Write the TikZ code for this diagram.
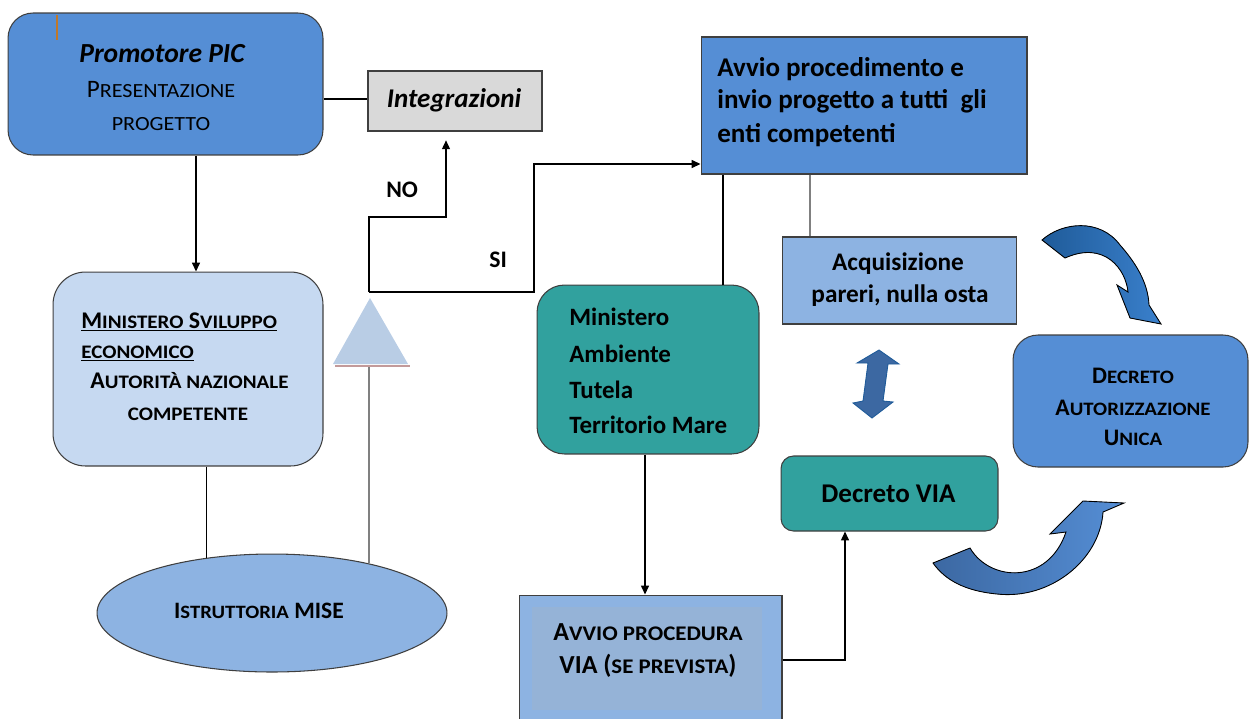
\documentclass[tikz,border=0pt]{standalone}
\usepackage{fontspec}
\setmainfont{Carlito}
\usetikzlibrary{arrows.meta,shapes.geometric}

\definecolor{bluA}{HTML}{558ED5}
\definecolor{bluC}{HTML}{C6D9F1}
\definecolor{bluM}{HTML}{8DB3E2}
\definecolor{bluV}{HTML}{95B3D7}
\definecolor{verde}{HTML}{31A19E}
\definecolor{grigio}{HTML}{D9D9D9}
\definecolor{bordo}{HTML}{3F3F3F}
\definecolor{tria}{HTML}{B9CDE5}
\definecolor{rosa}{HTML}{C39A9A}
\definecolor{bluS}{HTML}{3C68A2}
\definecolor{bluD}{HTML}{1F5B99}
\definecolor{bluL}{HTML}{3A80CC}
\definecolor{arancio}{HTML}{C0782A}

% maiuscoletto
\newcommand{\pc}[1]{\scalebox{0.88}[0.8]{#1}}

\begin{document}
\begin{tikzpicture}[x=0.02cm, y=-0.02cm,
		scatola/.style={draw=bordo, line width=0.6pt, inner sep=0pt},
		tonda/.style={scatola, rounded corners=0.5cm},
		freccia/.style={-{Triangle[length=5pt, width=4.5pt]}, line width=0.7pt},
		linea/.style={line width=0.7pt},
		lineagrigia/.style={line width=0.9pt, draw=gray},
		testo/.style={inner sep=0pt, font=\fontsize{#1}{#1}\selectfont\bfseries},
		tenue/.style={inner sep=0pt, font=\fontsize{#1}{#1}\selectfont}
	]
	\useasboundingbox (0,0) rectangle (1250,718);

	% promotore
	\node [tonda, fill=bluA, minimum width=6.3cm, minimum height=2.84cm] (promotore) at (165.5,84) {};
	\draw [arancio, line width=1.2pt] (57,15) -- (57,40);
	\node [testo=15.7, anchor=base] (promotore-a) at (162,62) {\itshape Promotore PIC};
	\node [tenue=14.3, anchor=base] (promotore-b) at (161,97) {P\pc{RESENTAZIONE}};
	\node [tenue=14.3, anchor=base] (promotore-c) at (161,130) {\pc{PROGETTO}};

	% integrazioni
	\node [scatola, fill=grigio, minimum width=3.48cm, minimum height=1.2cm] (integrazioni) at (455,101) {};
	\node [testo=15.4, anchor=base] (integrazioni-a) at (454,107) {\itshape Integrazioni};

	% ministero sviluppo economico
	\node [tonda, rounded corners=0.65cm, fill=bluC, minimum width=5.4cm, minimum height=3.88cm] (mise) at (188,369) {};
	\node [testo=13.6, anchor=base west] (mise-a) at (81,328) {\underline{M\pc{INISTERO} S\pc{VILUPPO}}};
	\node [testo=13.6, anchor=base west] (mise-b) at (81,358) {\underline{\pc{ECONOMICO}}};
	\node [testo=13.6, anchor=base west] (mise-c) at (90,388) {A\pc{UTORITÀ NAZIONALE}};
	\node [testo=13.6, anchor=base] (mise-d) at (188,420) {\pc{COMPETENTE}};

	% istruttoria
	\node [scatola, ellipse, fill=bluM, minimum width=7cm, minimum height=2.36cm] (istruttoria) at (272,613) {};
	\node [testo=13.4, anchor=base] (istruttoria-a) at (259,618) {I\pc{STRUTTORIA} MISE};

	% verifica
	\coordinate (tri) at (370,367);
	\coordinate (bivio) at (369,292);
	\fill [tria] (333,364) -- (370,298) -- (408,364) -- cycle;
	\draw [rosa, line width=1.6pt] (335,366) -- (410,366);
	\node [testo=13.5, anchor=base west] (no) at (386,197) {NO};
	\node [testo=13.5, anchor=base west] (si) at (489,267) {SI};

	% avvio procedimento
	\node [scatola, fill=bluA, minimum width=6.52cm, minimum height=2.74cm] (avvio) at (864,105.5) {};
	\node [testo=15.4, anchor=base west] (avvio-a) at (717,76) {Avvio procedimento e};
	\node [testo=15.4, anchor=base west] (avvio-b) at (717,108) {invio progetto a tutti\ \ gli};
	\node [testo=15.4, anchor=base west] (avvio-c) at (717,142) {enti competenti};

	% acquisizione pareri
	\node [scatola, fill=bluM, minimum width=4.68cm, minimum height=1.74cm] (acquisizione) at (899.5,280.5) {};
	\node [testo=14.4, anchor=base] (acquisizione-a) at (898,270) {Acquisizione};
	\node [testo=14.4, anchor=base] (acquisizione-b) at (900,302) {pareri, nulla osta};

	% ministero ambiente
	\node [tonda, rounded corners=0.55cm, fill=verde, minimum width=4.44cm, minimum height=3.38cm] (ambiente) at (648,369.5) {};
	\node [testo=14.2, anchor=base west] (ambiente-a) at (569,325) {Ministero};
	\node [testo=14.2, anchor=base west] (ambiente-b) at (569,362) {Ambiente};
	\node [testo=14.2, anchor=base west] (ambiente-c) at (569,398) {Tutela};
	\node [testo=14.2, anchor=base west] (ambiente-d) at (569,433) {Territorio Mare};

	% procedura VIA
	\node [scatola, fill=bluM, minimum width=5.26cm, minimum height=2.6cm] (procedura) at (650.5,660) {};
	\fill [bluV] (532,607) rectangle (762,710);
	\node [testo=14.8, anchor=base] (procedura-a) at (648,640) {A\pc{VVIO PROCEDURA}};
	\node [testo=14.8, anchor=base] (procedura-b) at (648,673) {VIA (\pc{SE PREVISTA})};

	% decreto VIA
	\node [tonda, rounded corners=0.25cm, fill=verde, minimum width=4.34cm, minimum height=1.5cm] (decretovia) at (889.5,493.5) {};
	\node [testo=15.4, anchor=base] (decretovia-a) at (888.5,502) {Decreto VIA};

	% decreto autorizzazione unica
	\node [tonda, fill=bluA, minimum width=4.7cm, minimum height=2.64cm] (decretoau) at (1130.5,401) {};
	\node [testo=13.5, anchor=base] (decretoau-a) at (1133,383) {D\pc{ECRETO}};
	\node [testo=13.5, anchor=base] (decretoau-b) at (1133,415) {A\pc{UTORIZZAZIONE}};
	\node [testo=13.5, anchor=base] (decretoau-c) at (1133,445) {U\pc{NICA}};

	% collegamenti
	\draw [freccia] (promotore.south -| 196,0) -- (mise.north -| 196,0);
	\draw [linea] (promotore.east |- 0,99) -- (integrazioni.west |- 0,99);
	\draw [linea] (mise.south -| istruttoria.140) -- (istruttoria.140);
	\draw [lineagrigia] (istruttoria.27) -- (istruttoria.27 |- tri);
	\draw [freccia, shorten >=5pt] (bivio) |- (446,217) -- (integrazioni.south -| 446,0);
	\draw [freccia] (bivio) -| (534,164) -- (avvio.west |- 0,164);
	\draw [linea] (avvio.south -| 723,0) -- (ambiente.north -| 723,0);
	\draw [lineagrigia] (avvio.south -| 810,0) -- (acquisizione.north -| 810,0);
	\draw [freccia] (ambiente.south -| 645,0) -- (procedura.north -| 645,0);
	\draw [freccia] (procedura.east |- 0,660) -| (decretovia.south -| 845,0);

	% frecce blu
	\filldraw [fill=bluS, draw=bluD, line width=0.5pt] (879,350) -- (899,364) -- (888,364) -- (883,401) -- (893,402) -- (872,418) -- (853,403) -- (863,401) -- (868,363) -- (857,363) -- cycle;
	\filldraw [left color=bluD, right color=bluL, draw=black, line width=0.5pt] (1042,240) .. controls (1062,222) and (1100,218) .. (1120,245) .. controls (1135,262) and (1148,282) .. (1149,305) -- (1161,324) -- (1130,318) -- (1117,285) -- (1128,292) .. controls (1126,270) and (1105,240) .. (1065,258) -- cycle;
	\filldraw [left color=bluS, right color=bluA, draw=black, line width=0.5pt] (933,563) -- (970,548) .. controls (990,582) and (1048,585) .. (1066,532) -- (1050,534) -- (1083,501) -- (1124,503) -- (1103,512) .. controls (1100,560) and (1050,600) .. (997,594) .. controls (965,591) and (945,580) .. (933,563) -- cycle;
\end{tikzpicture}
\end{document}
